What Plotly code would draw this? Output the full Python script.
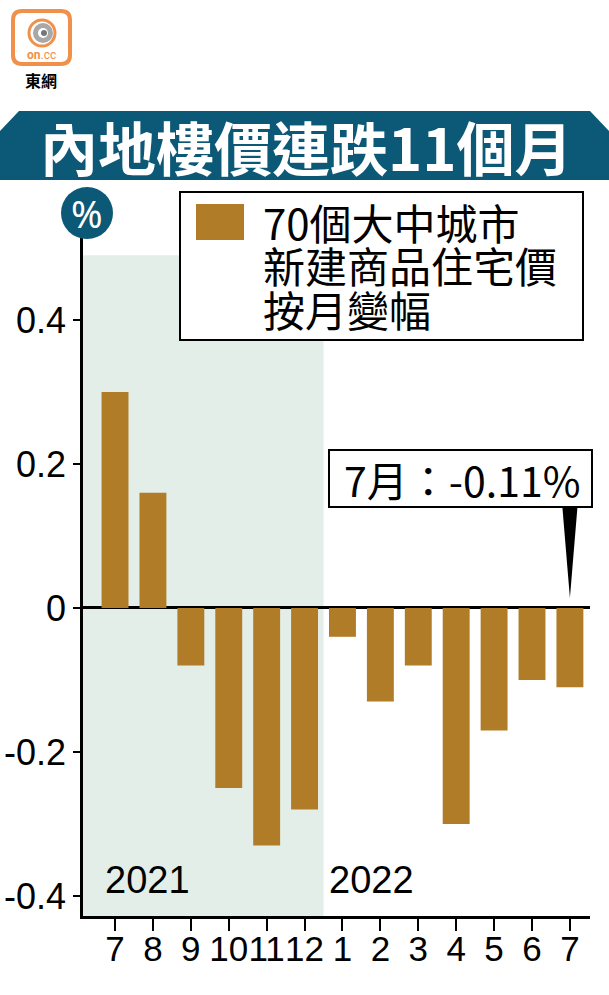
import plotly.graph_objects as go

# ---- data ----
months = ["7", "8", "9", "10", "11", "12", "1", "2", "3", "4", "5", "6", "7"]
values = [0.30, 0.16, -0.08, -0.25, -0.33, -0.28, -0.04, -0.13, -0.08, -0.30, -0.17, -0.10, -0.11]
years = ["2021", "2022"]
year_start_idx = [0, 6]
y_tickvals = [0.4, 0.2, 0, -0.2, -0.4]
y_ticktext = ["0.4", "0.2", "0", "-0.2", "-0.4"]
title_text = "內地樓價連跌11個月"
legend_lines = ["70個大中城市", "新建商品住宅價", "按月變幅"]

BAR = "#b07c27"
TEAL = "#0b5877"
SHADE = "#e4eee8"
ORANGE = "#f0904a"
NUMFONT = "Liberation Sans Narrow, Liberation Sans, Arial, sans-serif"

W, H = 609, 995
L, R, T, B = 83, 590, 238, 916
PW, PH = R - L, B - T

def px(x):
    return (x - L) / PW

def py(y):
    return (B - y) / PH

xpos = list(range(len(months)))
xr = [-0.845, 12.53]
yr = [-0.4278, 0.5139]

fig = go.Figure()
fig.add_trace(go.Bar(x=xpos, y=values, marker=dict(color=BAR, line=dict(width=0)),
                     showlegend=False, hoverinfo="skip"))

shapes = []
annotations = []

# shaded 2021 region
shapes.append(dict(type="rect", xref="x", yref="y", x0=xr[0], x1=year_start_idx[1] - 0.5,
                   y0=yr[0], y1=0.49, fillcolor=SHADE, line=dict(width=0), layer="below"))

# title banner
banner = [(0, 131), (19, 111), (590, 111), (609, 131), (609, 180), (0, 180)]
path = "M " + " L ".join(f"{px(a):.5f},{py(b):.5f}" for a, b in banner) + " Z"
shapes.append(dict(type="path", xref="paper", yref="paper", path=path,
                   fillcolor=TEAL, line=dict(width=0), layer="above"))
annotations.append(dict(xref="paper", yref="paper", x=px(306), y=py(146), text=f"<b>{title_text}</b>",
                        showarrow=False, xanchor="center", yanchor="middle",
                        font=dict(family="Noto Sans CJK TC", size=58, color="white")))

# % circle
shapes.append(dict(type="circle", xref="paper", yref="paper", x0=px(61), x1=px(113),
                   y0=py(239), y1=py(187), fillcolor=TEAL, line=dict(width=0)))
annotations.append(dict(xref="paper", yref="paper", x=px(87), y=py(213), text="%",
                        showarrow=False, xanchor="center", yanchor="middle",
                        font=dict(family="Noto Sans", size=38, color="white")))

# legend box
shapes.append(dict(type="rect", xref="paper", yref="paper", x0=px(180), x1=px(583),
                   y0=py(340), y1=py(192), fillcolor="white", line=dict(color="black", width=2)))
shapes.append(dict(type="rect", xref="paper", yref="paper", x0=px(196), x1=px(244),
                   y0=py(240), y1=py(204), fillcolor=BAR, line=dict(width=0)))
for i, line in enumerate(legend_lines):
    annotations.append(dict(xref="paper", yref="paper", x=px(261), y=py(222 + 43 * i), text=line,
                            showarrow=False, xanchor="left", yanchor="middle",
                            font=dict(family="Noto Sans CJK TC", size=42, color="black")))

# callout for latest month
last = len(values) - 1
shapes.append(dict(type="path", xref="x", yref="y",
                   path=f"M {last-0.2},0.141 L {last+0.2},0.141 L {last},0.014 Z",
                   fillcolor="black", line=dict(width=0)))
shapes.append(dict(type="rect", xref="paper", yref="paper", x0=px(329), x1=px(592),
                   y0=py(507), y1=py(450), fillcolor="white", line=dict(color="black", width=2)))
annotations.append(dict(xref="paper", yref="paper", x=px(462), y=py(479),
                        text=f"{months[last]}月：{values[last]:.2f}%",
                        showarrow=False, xanchor="center", yanchor="middle",
                        font=dict(family="Noto Sans CJK TC", size=41, color="black")))

# year labels
year_x = [-0.32, 5.6]
for yl, xx in zip(years, year_x):
    annotations.append(dict(xref="x", yref="y", x=xx, y=-0.378, text=yl, showarrow=False,
                            xanchor="left", yanchor="middle",
                            font=dict(family=NUMFONT, size=38, color="black")))

# logo
lx0, lx1, ly0, ly1, r = 13, 70, 11, 64, 9
logo = (f"M {px(lx0+r)},{py(ly0)} L {px(lx1-r)},{py(ly0)} Q {px(lx1)},{py(ly0)} {px(lx1)},{py(ly0+r)} "
        f"L {px(lx1)},{py(ly1-r)} Q {px(lx1)},{py(ly1)} {px(lx1-r)},{py(ly1)} "
        f"L {px(lx0+r)},{py(ly1)} Q {px(lx0)},{py(ly1)} {px(lx0)},{py(ly1-r)} "
        f"L {px(lx0)},{py(ly0+r)} Q {px(lx0)},{py(ly0)} {px(lx0+r)},{py(ly0)} Z")
shapes.append(dict(type="path", xref="paper", yref="paper", path=logo, fillcolor="white",
                   line=dict(color=ORANGE, width=4)))
shapes.append(dict(type="circle", xref="paper", yref="paper", x0=px(29), x1=px(55),
                   y0=py(46), y1=py(20), fillcolor="white", line=dict(color=ORANGE, width=3)))
shapes.append(dict(type="circle", xref="paper", yref="paper", x0=px(33), x1=px(53),
                   y0=py(43), y1=py(23), fillcolor="#a8a8a8", line=dict(width=0)))
shapes.append(dict(type="circle", xref="paper", yref="paper", x0=px(38), x1=px(48),
                   y0=py(38), y1=py(28), fillcolor="white", line=dict(width=0)))
shapes.append(dict(type="circle", xref="paper", yref="paper", x0=px(41), x1=px(47),
                   y0=py(36), y1=py(30), fillcolor="#777777", line=dict(width=0)))
annotations.append(dict(xref="paper", yref="paper", x=px(41), y=py(55), text="<b>on</b>.cc",
                        showarrow=False, xanchor="center", yanchor="middle",
                        font=dict(family="Roboto", size=12, color=ORANGE)))
annotations.append(dict(xref="paper", yref="paper", x=px(41), y=py(80), text="<b>東網</b>",
                        showarrow=False, xanchor="center", yanchor="middle",
                        font=dict(family="Noto Sans CJK TC", size=16, color="black")))

fig.update_layout(
    width=W, height=H, autosize=False,
    margin=dict(l=L, r=W - R, t=T, b=H - B, pad=0),
    paper_bgcolor="white", plot_bgcolor="white",
    bargap=0.29,
    shapes=shapes, annotations=annotations,
    xaxis=dict(range=xr, tickmode="array", tickvals=xpos, ticktext=months,
               automargin=False, tickangle=0,
               showgrid=False, zeroline=False, showline=True, linecolor="black", linewidth=2.5,
               ticks="outside", ticklen=12, tickwidth=2, tickcolor="black",
               ticklabelstandoff=-12,
               tickfont=dict(family=NUMFONT, size=35, color="black"),
               fixedrange=True),
    yaxis=dict(range=yr, tickmode="array", tickvals=y_tickvals, ticktext=y_ticktext,
               automargin=False,
               showgrid=False, zeroline=True, zerolinecolor="black", zerolinewidth=2.5,
               showline=True, linecolor="black", linewidth=2.5,
               ticks="outside", ticklen=7, tickwidth=2, tickcolor="black",
               ticklabelstandoff=0,
               tickfont=dict(family=NUMFONT, size=36, color="black"),
               fixedrange=True),
)

fig.write_html("out.html")
